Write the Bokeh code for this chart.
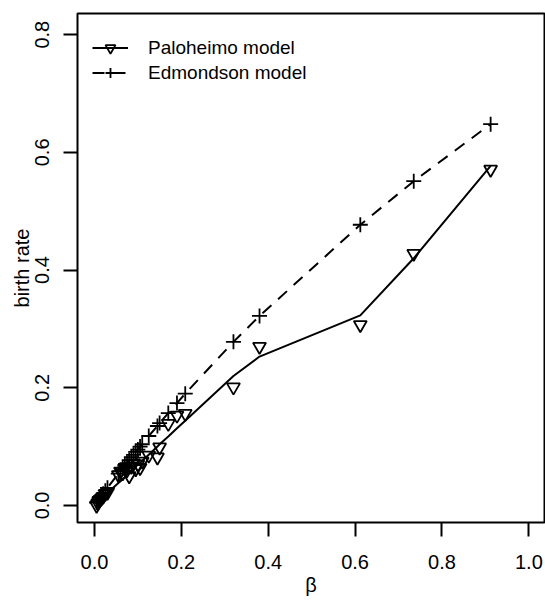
from bokeh.plotting import figure
from bokeh.models import (Range1d, FixedTicker, PrintfTickFormatter, Legend, LegendItem)
from bokeh.embed import file_html
from bokeh.resources import INLINE

# beta values (x)
beta = [0.005, 0.008, 0.010, 0.013, 0.016, 0.020, 0.025, 0.030, 0.055, 0.060,
        0.065, 0.070, 0.075, 0.080, 0.085, 0.090, 0.095, 0.100, 0.105, 0.110,
        0.125, 0.145, 0.150, 0.170, 0.190, 0.209, 0.320, 0.380, 0.612, 0.735, 0.912]
# Paloheimo model: observed points (triangles)
paloheimo_pts = [0.000, 0.004, 0.008, 0.010, 0.012, 0.015, 0.020, 0.022, 0.052, 0.058,
                 0.055, 0.064, 0.060, 0.050, 0.066, 0.072, 0.062, 0.070, 0.064, 0.075,
                 0.085, 0.082, 0.099, 0.139, 0.153, 0.156, 0.201, 0.270, 0.307, 0.428, 0.571]
# Paloheimo model: solid line
paloheimo_line = [0.003, 0.006, 0.007, 0.009, 0.011, 0.014, 0.017, 0.021, 0.038, 0.041,
                  0.045, 0.048, 0.052, 0.055, 0.059, 0.062, 0.066, 0.069, 0.072, 0.076,
                  0.086, 0.100, 0.104, 0.117, 0.131, 0.144, 0.220, 0.253, 0.323, 0.420, 0.577]
# Edmondson model (crosses, dashed line)
edmondson = [0.005, 0.008, 0.010, 0.013, 0.016, 0.020, 0.025, 0.030, 0.054, 0.058,
             0.063, 0.068, 0.072, 0.077, 0.082, 0.086, 0.091, 0.095, 0.100, 0.104,
             0.118, 0.135, 0.140, 0.157, 0.174, 0.190, 0.278, 0.322, 0.477, 0.551, 0.648]

x_ticks = [0.0, 0.2, 0.4, 0.6, 0.8, 1.0]
y_ticks = [0.0, 0.2, 0.4, 0.6, 0.8]

FONT = "Liberation Sans"

p = figure(width=545, height=601, output_backend="svg", toolbar_location=None,
           x_range=Range1d(-0.039, 1.036), y_range=Range1d(-0.029, 0.836),
           min_border_left=77, min_border_right=1, min_border_top=13,
           min_border_bottom=79)
p.grid.visible = False
p.outline_line_color = "black"
p.outline_line_width = 2
p.background_fill_color = "white"
p.border_fill_color = "white"

for ax, ticks in ((p.xaxis[0], x_ticks), (p.yaxis[0], y_ticks)):
    ax.ticker = FixedTicker(ticks=ticks)
    ax.formatter = PrintfTickFormatter(format="%.1f")
    ax.minor_tick_line_color = None
    ax.major_tick_in = 0
    ax.major_tick_out = 14
    ax.major_tick_line_width = 2
    ax.axis_line_color = None
    ax.major_label_text_font = FONT
    ax.major_label_text_font_size = "20px"
    ax.major_label_text_color = "black"
    ax.axis_label_text_font = FONT
    ax.axis_label_text_font_size = "20px"
    ax.axis_label_text_font_style = "normal"
    ax.axis_label_text_color = "black"

p.xaxis.axis_label = "β"
p.yaxis.axis_label = "birth rate"
p.yaxis.major_label_orientation = "vertical"
p.xaxis.major_label_standoff = 18
p.xaxis.axis_label_standoff = 2
p.yaxis.major_label_standoff = 14
p.yaxis.axis_label_standoff = 0

pl = p.line(beta, paloheimo_line, line_color="black", line_width=2)
pm = p.scatter(beta, paloheimo_pts, marker="inverted_triangle", size=13,
               fill_color=None, line_color="black", line_width=1.8)
el = p.line(beta, edmondson, line_color="black", line_width=2, line_dash="12 9")
em = p.scatter(beta, edmondson, marker="cross", size=15,
               line_color="black", line_width=1.8)

legend = Legend(items=[LegendItem(label="Paloheimo model", renderers=[pl, pm]),
                       LegendItem(label="Edmondson model", renderers=[el, em])],
                location=(15, 437), margin=0, padding=0, spacing=0,
                glyph_width=36, glyph_height=25, label_height=25,
                label_standoff=20, border_line_color=None,
                background_fill_alpha=0,
                label_text_font=FONT, label_text_font_size="19px",
                label_text_color="black")
p.add_layout(legend)

open("out.html", "w").write(file_html(p, INLINE))
